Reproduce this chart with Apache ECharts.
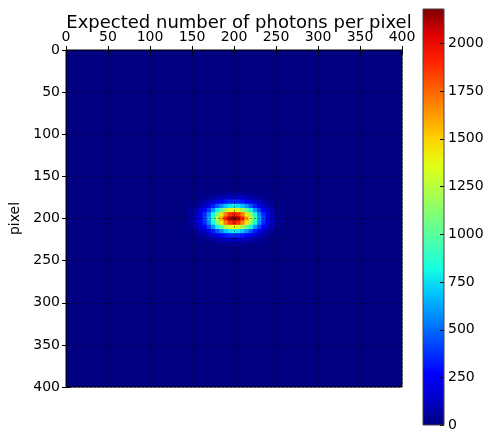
<!DOCTYPE html>
<html>
<head>
<meta charset="utf-8">
<title>Expected number of photons per pixel</title>
<script src="https://cdn.jsdelivr.net/npm/echarts@6.0.0/dist/echarts.min.js"></script>
<style>
    html, body { margin: 0; padding: 0; background: #fff; }
    #chart { width: 487px; height: 432px; }
</style>
</head>
<body>
<div id="chart"></div>
<script>
    // 数据：像素中心坐标（每格 5 像素），其余区域为 0
    var CELL = 5;
    var xCenters = [145, 150, 155, 160, 165, 170, 175, 180, 185, 190, 195, 200,
        205, 210, 215, 220, 225, 230, 235, 240, 245, 250, 255];
    var yCenters = [170, 175, 180, 185, 190, 195, 200, 205, 210, 215, 220, 225, 230];
    // 每行对应 yCenters 中的一个值
    var photons = [
        [1, 1, 2, 4, 7, 11, 16, 21, 27, 32, 36, 37, 36, 32, 27, 21, 16, 11, 7, 4, 2, 1, 1],
        [2, 4, 8, 14, 24, 37, 54, 74, 94, 112, 124, 128, 124, 112, 94, 74, 54, 37, 24, 14, 8, 4, 2],
        [5, 11, 22, 39, 65, 102, 150, 204, 260, 310, 343, 355, 343, 310, 260, 204, 150, 102, 65, 39, 22, 11, 5],
        [12, 25, 48, 86, 144, 226, 331, 452, 575, 685, 759, 786, 759, 685, 575, 452, 331, 226, 144, 86, 48, 25, 12],
        [21, 43, 84, 151, 254, 398, 583, 796, 1013, 1206, 1337, 1384, 1337, 1206, 1013, 796, 583, 398, 254, 151, 84, 43, 21],
        [29, 61, 118, 213, 357, 560, 820, 1120, 1425, 1696, 1881, 1947, 1881, 1696, 1425, 1120, 820, 560, 357, 213, 118, 61, 29],
        [33, 68, 132, 238, 400, 627, 918, 1254, 1596, 1899, 2106, 2180, 2106, 1899, 1596, 1254, 918, 627, 400, 238, 132, 68, 33],
        [29, 61, 118, 213, 357, 560, 820, 1120, 1425, 1696, 1881, 1947, 1881, 1696, 1425, 1120, 820, 560, 357, 213, 118, 61, 29],
        [21, 43, 84, 151, 254, 398, 583, 796, 1013, 1206, 1337, 1384, 1337, 1206, 1013, 796, 583, 398, 254, 151, 84, 43, 21],
        [12, 25, 48, 86, 144, 226, 331, 452, 575, 685, 759, 786, 759, 685, 575, 452, 331, 226, 144, 86, 48, 25, 12],
        [5, 11, 22, 39, 65, 102, 150, 204, 260, 310, 343, 355, 343, 310, 260, 204, 150, 102, 65, 39, 22, 11, 5],
        [2, 4, 8, 14, 24, 37, 54, 74, 94, 112, 124, 128, 124, 112, 94, 74, 54, 37, 24, 14, 8, 4, 2],
        [1, 1, 2, 4, 7, 11, 16, 21, 27, 32, 36, 37, 36, 32, 27, 21, 16, 11, 7, 4, 2, 1, 1]
    ];
    var colorMax = 2180;
    var colorStep = 250;
    var colorTicks = [0, 250, 500, 750, 1000, 1250, 1500, 1750, 2000];
    // matplotlib jet, 每 1/16 取一个颜色
    var jet = ['#000080', '#0000c8', '#0000ff', '#0040ff', '#0080ff', '#00c0ff',
        '#14ffe2', '#48ffaf', '#7bff7b', '#afff48', '#e2ff14', '#ffd200',
        '#ff9700', '#ff5c00', '#ff2100', '#df0000', '#800000'];

    var FONT = 'DejaVu Sans';

    var cells = [];
    for (var i = 0; i < yCenters.length; i++) {
        for (var j = 0; j < xCenters.length; j++) {
            cells.push([xCenters[j], yCenters[i], photons[i][j]]);
        }
    }

    function renderCell(params, api) {
        var x = api.value(0), y = api.value(1);
        var p0 = api.coord([x - CELL / 2, y - CELL / 2]);
        var p1 = api.coord([x + CELL / 2, y + CELL / 2]);
        return {
            type: 'rect',
            shape: {
                x: Math.min(p0[0], p1[0]),
                y: Math.min(p0[1], p1[1]),
                width: Math.abs(p1[0] - p0[0]) + 0.6,
                height: Math.abs(p1[1] - p0[1]) + 0.6
            },
            style: { fill: api.visual('color') }
        };
    }

    // 色条：渐变矩形 + 右边向内的小刻度
    function renderColorbar(params, api) {
        var p0 = api.coord([0, 0]);
        var p1 = api.coord([1, colorMax]);
        var stops = jet.map(function (c, k) {
            return { offset: k / (jet.length - 1), color: c };
        });
        var children = [{
            type: 'rect',
            shape: { x: p0[0], y: p1[1], width: p1[0] - p0[0], height: p0[1] - p1[1] },
            style: { fill: new echarts.graphic.LinearGradient(0, 1, 0, 0, stops) }
        }];
        colorTicks.forEach(function (v) {
            var p = api.coord([1, v]);
            var y = Math.round(p[1]) + 0.5;
            children.push({
                type: 'line',
                shape: { x1: p[0] - 4, y1: y, x2: p[0], y2: y },
                style: { stroke: '#000', lineWidth: 1 }
            });
        });
        return { type: 'group', children: children };
    }

    var tickLabel = { fontFamily: FONT, fontSize: 14, color: '#000' };
    var gridLine = { show: true, lineStyle: { color: '#000', type: [2, 2], width: 0.6, opacity: 0.7 } };

    var myChart = echarts.init(document.getElementById('chart'));
    myChart.setOption({
        animation: false,
        title: {
            text: 'Expected number of photons per pixel',
            left: 234,
            textAlign: 'center',
            top: 9,
            textStyle: { fontFamily: FONT, fontSize: 18, fontWeight: 'normal', color: '#000' }
        },
        grid: [
            { left: 66, top: 50, width: 336, height: 337, show: true,
              backgroundColor: '#000080', borderColor: '#000', borderWidth: 1 },
            { left: 423, top: 9, width: 21, height: 418, show: true,
              backgroundColor: 'transparent', borderColor: '#444', borderWidth: 1, z: 10 }
        ],
        xAxis: [
            { type: 'value', gridIndex: 0, position: 'top', min: 0, max: 400, interval: 50, z: 5,
              axisLine: { show: false },
              axisTick: { inside: true, length: 4, lineStyle: { color: '#000' } },
              axisLabel: Object.assign({ margin: 6 }, tickLabel),
              splitLine: gridLine },
            { type: 'value', gridIndex: 0, position: 'bottom', min: 0, max: 400, interval: 50, z: 5,
              axisLine: { show: false },
              axisTick: { inside: true, length: 4, lineStyle: { color: '#000' } },
              axisLabel: { show: false }, splitLine: { show: false } },
            { type: 'value', gridIndex: 1, show: false, min: 0, max: 1 }
        ],
        yAxis: [
            { type: 'value', gridIndex: 0, inverse: true, min: 0, max: 400, interval: 50, z: 5,
              name: 'pixel', nameLocation: 'middle', nameGap: 44, nameRotate: 90,
              nameTextStyle: { fontFamily: FONT, fontSize: 14, color: '#000' },
              axisLine: { show: false },
              axisTick: { inside: true, length: 4, lineStyle: { color: '#000' } },
              axisLabel: Object.assign({ margin: 6 }, tickLabel),
              splitLine: gridLine },
            { type: 'value', gridIndex: 0, position: 'right', inverse: true, min: 0, max: 400, interval: 50, z: 5,
              axisLine: { show: false },
              axisTick: { inside: true, length: 4, lineStyle: { color: '#000' } },
              axisLabel: { show: false }, splitLine: { show: false } },
            // 色条刻度标签（刻度线在 renderColorbar 里画）
            { type: 'value', gridIndex: 1, position: 'right', min: 0, max: colorMax, interval: colorStep, z: 12,
              axisLine: { show: false, onZero: false },
              axisTick: { show: false },
              axisLabel: Object.assign({
                  margin: 4,
                  showMaxLabel: false,
                  formatter: function (v) { return v % colorStep === 0 ? String(v) : ''; }
              }, tickLabel),
              splitLine: { show: false } }
        ],
        visualMap: {
            type: 'continuous',
            show: false,
            min: 0,
            max: colorMax,
            dimension: 2,
            seriesIndex: 0,
            inRange: { color: jet }
        },
        series: [{
            type: 'custom',
            xAxisIndex: 0,
            yAxisIndex: 0,
            renderItem: renderCell,
            encode: { x: 0, y: 1 },
            data: cells,
            z: 2
        }, {
            type: 'custom',
            xAxisIndex: 2,
            yAxisIndex: 2,
            renderItem: renderColorbar,
            encode: { x: 0, y: 1 },
            data: [[0, 0]],
            silent: true,
            z: 2
        }]
    });
</script>
</body>
</html>
